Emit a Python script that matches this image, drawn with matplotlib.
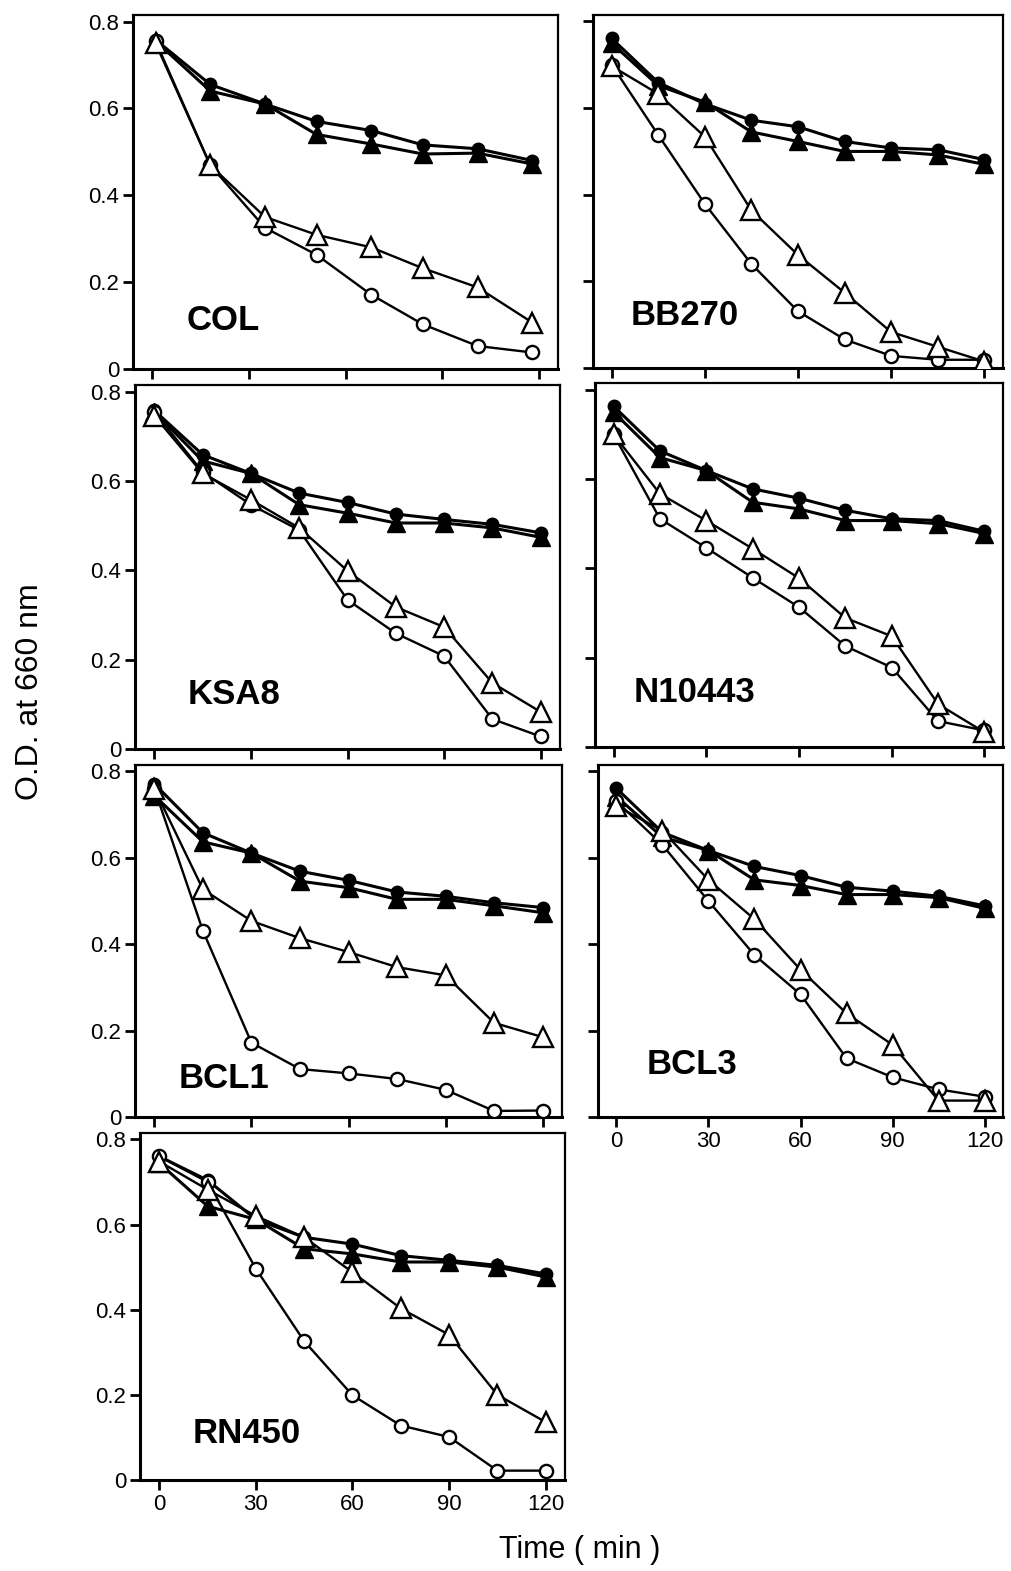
import matplotlib
matplotlib.use('Agg')
import matplotlib.pyplot as plt

plt.rcParams['font.family'] = ['Liberation Sans', 'DejaVu Sans']

# sampling times (min)
t_std = [0, 15, 30, 45, 60, 75, 90, 105, 120]
t_col = [1, 18, 35, 51, 68, 84, 101, 118]

# O.D. at 660 nm
# fc = filled circle, ft = filled triangle, oc = open circle, ot = open triangle
col_fc = [0.758, 0.655, 0.61, 0.57, 0.549, 0.516, 0.507, 0.48]
col_ft = [0.755, 0.64, 0.61, 0.54, 0.518, 0.495, 0.497, 0.472]
col_oc = [0.755, 0.469, 0.325, 0.263, 0.171, 0.103, 0.053, 0.038]
col_ot = [0.75, 0.469, 0.35, 0.309, 0.28, 0.232, 0.188, 0.107]

bb270_fc = [0.761, 0.659, 0.61, 0.572, 0.557, 0.523, 0.508, 0.504, 0.481]
bb270_ft = [0.75, 0.652, 0.614, 0.545, 0.523, 0.5, 0.5, 0.492, 0.47]
bb270_oc = [0.70, 0.538, 0.379, 0.24, 0.131, 0.066, 0.028, 0.019, 0.019]
bb270_ot = [0.697, 0.633, 0.534, 0.364, 0.261, 0.174, 0.083, 0.049, 0.015]

ksa8_fc = [0.758, 0.659, 0.617, 0.573, 0.552, 0.526, 0.514, 0.503, 0.484]
ksa8_ft = [0.755, 0.645, 0.617, 0.547, 0.528, 0.506, 0.506, 0.495, 0.474]
ksa8_oc = [0.755, 0.62, 0.547, 0.49, 0.334, 0.259, 0.208, 0.067, 0.028]
ksa8_ot = [0.746, 0.617, 0.558, 0.495, 0.399, 0.318, 0.273, 0.148, 0.083]

n10443_fc = [0.763, 0.663, 0.619, 0.578, 0.557, 0.53, 0.511, 0.507, 0.483]
n10443_ft = [0.75, 0.648, 0.619, 0.548, 0.533, 0.507, 0.507, 0.5, 0.478]
n10443_oc = [0.70, 0.511, 0.446, 0.379, 0.313, 0.226, 0.178, 0.058, 0.037]
n10443_ot = [0.70, 0.567, 0.507, 0.444, 0.378, 0.289, 0.248, 0.096, 0.033]

bcl1_fc = [0.771, 0.658, 0.611, 0.569, 0.548, 0.521, 0.511, 0.496, 0.485]
bcl1_ft = [0.744, 0.637, 0.611, 0.546, 0.531, 0.504, 0.504, 0.489, 0.473]
bcl1_oc = [0.76, 0.431, 0.172, 0.111, 0.101, 0.088, 0.063, 0.014, 0.015]
bcl1_ot = [0.76, 0.527, 0.454, 0.414, 0.382, 0.347, 0.328, 0.218, 0.185]

bcl3_fc = [0.761, 0.659, 0.617, 0.58, 0.559, 0.532, 0.523, 0.511, 0.489]
bcl3_ft = [0.742, 0.648, 0.617, 0.549, 0.536, 0.515, 0.515, 0.508, 0.483]
bcl3_oc = [0.731, 0.63, 0.5, 0.375, 0.284, 0.136, 0.092, 0.064, 0.047]
bcl3_ot = [0.72, 0.663, 0.549, 0.458, 0.341, 0.24, 0.167, 0.038, 0.038]

rn450_fc = [0.76, 0.704, 0.612, 0.57, 0.554, 0.527, 0.516, 0.504, 0.484]
rn450_ft = [0.744, 0.643, 0.612, 0.543, 0.531, 0.512, 0.512, 0.5, 0.477]
rn450_oc = [0.76, 0.70, 0.496, 0.326, 0.199, 0.128, 0.101, 0.022, 0.022]
rn450_ot = [0.748, 0.682, 0.62, 0.57, 0.488, 0.403, 0.341, 0.2, 0.136]

W, H = 1011, 1571
fig = plt.figure(figsize=(W / 100, H / 100), dpi=100)

# axes boxes in pixels: left, top, right, bottom
panels = [
    ('COL', t_col, col_fc, col_ft, col_oc, col_ot, (133, 15, 558, 369), (10.5, 0.09), True, False),
    ('BB270', t_std, bb270_fc, bb270_ft, bb270_oc, bb270_ot, (593, 15, 1003, 368), (6, 0.10), False, False),
    ('KSA8', t_std, ksa8_fc, ksa8_ft, ksa8_oc, ksa8_ot, (135, 385, 560, 749), (10.3, 0.10), True, False),
    ('N10443', t_std, n10443_fc, n10443_ft, n10443_oc, n10443_ot, (595, 383, 1003, 747), (6.5, 0.10), False, False),
    ('BCL1', t_std, bcl1_fc, bcl1_ft, bcl1_oc, bcl1_ot, (135, 765, 562, 1117), (7.5, 0.066), True, False),
    ('BCL3', t_std, bcl3_fc, bcl3_ft, bcl3_oc, bcl3_ot, (598, 765, 1003, 1117), (9.7, 0.10), False, True),
    ('RN450', t_std, rn450_fc, rn450_ft, rn450_oc, rn450_ot, (140, 1133, 565, 1480), (10.3, 0.088), True, True),
]

for name, t, fc, ft, oc, ot, box, lab, ylab, xlab in panels:
    l, tp, r, b = box
    ax = fig.add_axes([l / W, 1 - b / H, (r - l) / W, (b - tp) / H])
    ax.plot(t, fc, '-o', color='black', lw=2.2, ms=9, mfc='black', mec='black', zorder=3)
    ax.plot(t, ft, '-^', color='black', lw=2.2, ms=13, mfc='black', mec='black', zorder=3)
    ax.plot(t, oc, '-o', color='black', lw=1.7, ms=9.5, mfc='white', mec='black', mew=1.7, zorder=4)
    ax.plot(t, ot, '-^', color='black', lw=1.7, ms=14, mfc='white', mec='black', mew=1.7, zorder=5)
    ax.set_xlim(-6, 126)
    ax.set_ylim(0, 0.815)
    ax.set_xticks([0, 30, 60, 90, 120])
    ax.set_yticks([0, 0.2, 0.4, 0.6, 0.8])
    ax.tick_params(direction='out', length=7, width=2, labelsize=16, pad=3)
    if ylab:
        ax.set_yticklabels(['0', '0.2', '0.4', '0.6', '0.8'])
    else:
        ax.set_yticklabels([])
    if xlab:
        ax.set_xticklabels(['0', '30', '60', '90', '120'])
    else:
        ax.set_xticklabels([])
    for s in ax.spines.values():
        s.set_linewidth(1.6)
    ax.spines['left'].set_linewidth(2.2)
    ax.spines['bottom'].set_linewidth(2.2)
    ax.text(lab[0], lab[1], name, fontsize=25, fontweight='bold', ha='left', va='baseline')

fig.text(30 / W, 1 - 692 / H, 'O.D. at 660 nm', rotation=90, fontsize=23, ha='center', va='center')
fig.text(580 / W, 1 - 1550 / H, 'Time ( min )', fontsize=22, ha='center', va='center')

fig.savefig('out.png', dpi=100)
